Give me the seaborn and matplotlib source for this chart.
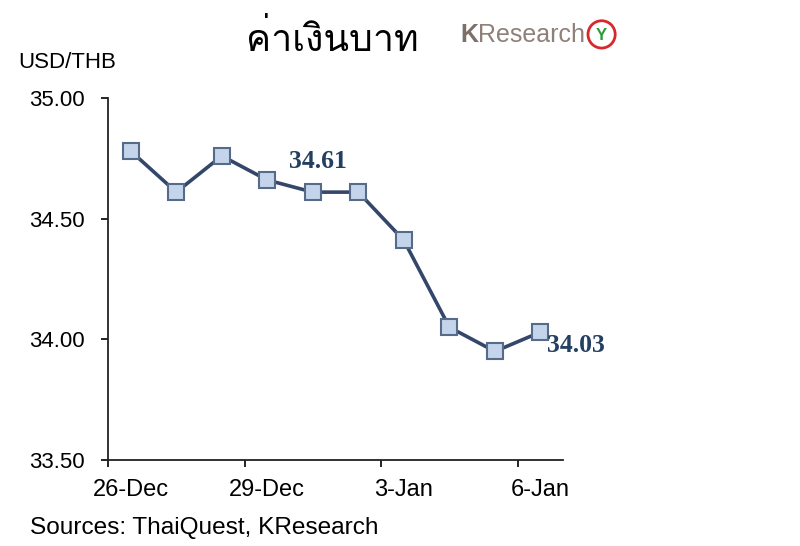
import matplotlib
matplotlib.use("Agg")
import matplotlib.pyplot as plt
import seaborn as sns
from matplotlib import font_manager
from matplotlib.ft2font import FT2Font
from matplotlib.patches import Ellipse

dates = ["26-Dec", "27-Dec", "28-Dec", "29-Dec", "30-Dec",
         "2-Jan", "3-Jan", "4-Jan", "5-Jan", "6-Jan"]
usd_thb = [34.78, 34.61, 34.76, 34.66, 34.61, 34.61, 34.41, 34.05, 33.95, 34.03]
shown_dates = ["26-Dec", "29-Dec", "3-Jan", "6-Jan"]
labelled = {"30-Dec": "34.61", "6-Jan": "34.03"}


def find_thai_font():
    # first installed family that has Thai glyphs
    for f in font_manager.fontManager.ttflist:
        try:
            if FT2Font(f.fname).get_char_index(0x0E04):
                return f.name
        except Exception:
            pass
    return "DejaVu Sans"


sns.set_style("ticks")
plt.rcParams["font.family"] = ["Liberation Sans", "DejaVu Sans"]
plt.rcParams["text.color"] = "black"
thai_font = find_thai_font()

fig = plt.figure(figsize=(8, 5.46), dpi=100)
ax = fig.add_axes([0.135, 0.1575, 0.569, 0.663])

line_col = "#34476a"
sns.lineplot(x=dates, y=usd_thb, ax=ax, color=line_col, linewidth=2.6,
             marker="s", markersize=11, markerfacecolor="#c4d4ea",
             markeredgecolor="#566a8a", markeredgewidth=1.5, sort=False)

ax.set_ylim(33.5, 35.0)
ax.set_yticks([33.5, 34.0, 34.5, 35.0])
ax.set_yticklabels([f"{v:.2f}" for v in [33.5, 34.0, 34.5, 35.0]])
ax.set_xlim(-0.5, len(dates) - 0.5)
# tick marks sit between categories, labels sit under the points
ax.set_xticks([dates.index(d) - 0.5 for d in shown_dates])
ax.set_xticklabels([])
ax.set_xticks([dates.index(d) for d in shown_dates], minor=True)
ax.set_xticklabels(shown_dates, minor=True)
ax.tick_params(axis="both", which="both", labelsize=16, length=5, width=1.2,
               colors="black")
ax.tick_params(axis="x", which="minor", length=0, labelsize=17, pad=14)
ax.tick_params(axis="y", pad=12)
ax.set_xlabel("")
ax.set_ylabel("")
for s in ["left", "bottom"]:
    ax.spines[s].set_linewidth(1.3)
    ax.spines[s].set_color("#222222")
sns.despine(ax=ax)

lab_col = "#243f60"
for d, txt in labelled.items():
    i = dates.index(d)
    if d == "6-Jan":
        ax.annotate(txt, (i, usd_thb[i]), xytext=(5, -10), textcoords="offset points",
                    ha="left", va="center", fontsize=18.5, fontweight="bold",
                    family="Liberation Serif", color=lab_col)
    else:
        ax.annotate(txt, (i, usd_thb[i]), xytext=(4, 22), textcoords="offset points",
                    ha="center", va="center", fontsize=18.5, fontweight="bold",
                    family="Liberation Serif", color=lab_col)

fig.text(0.0225, 0.886, "USD/THB", fontsize=16, ha="left", va="center")
fig.text(0.415, 0.927, "ค่าเงินบาท", fontsize=27, ha="center", va="center",
         color="black", family=[thai_font, "DejaVu Sans"])

# KResearch logo
fig.text(0.576, 0.935, "K", fontsize=18, fontweight="bold", color="#7d7069",
         ha="left", va="center")
fig.text(0.597, 0.935, "Research", fontsize=18, color="#8f8079",
         ha="left", va="center")
fig.add_artist(Ellipse((0.752, 0.937), 0.034, 0.05, transform=fig.transFigure,
                       facecolor="white", edgecolor="#d8282c", linewidth=2))
fig.text(0.752, 0.935, "Y", fontsize=12, fontweight="bold", color="#2e9a3c",
         ha="center", va="center")

fig.text(0.038, 0.033, "Sources: ThaiQuest, KResearch", fontsize=17.6,
         ha="left", va="center")

fig.savefig("out.png", dpi=100)
